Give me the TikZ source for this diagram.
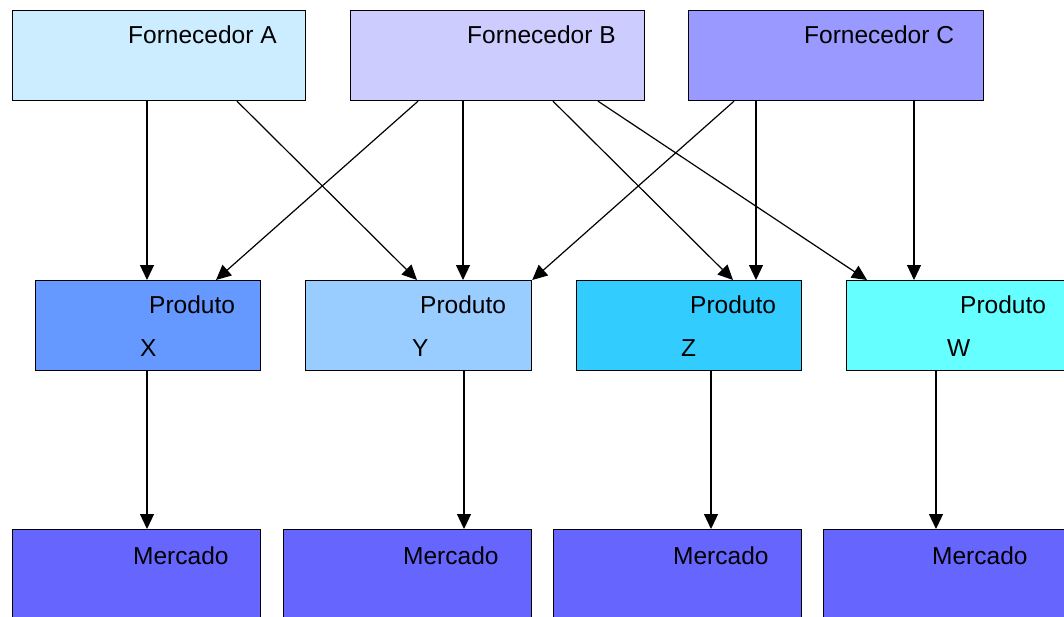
\documentclass[tikz,border=0pt]{standalone}
\usepackage{fontspec}
\setmainfont{Liberation Sans}
\usetikzlibrary{arrows.meta}
\definecolor{cA}{HTML}{CCECFF}
\definecolor{cB}{HTML}{CCCCFF}
\definecolor{cC}{HTML}{9999FF}
\definecolor{cX}{HTML}{6699FF}
\definecolor{cY}{HTML}{99CCFF}
\definecolor{cZ}{HTML}{33CCFF}
\definecolor{cW}{HTML}{66FFFF}
\definecolor{cM}{HTML}{6666FF}
\tikzset{
  box/.style={draw=black, line width=1.2pt, rectangle, inner sep=0pt, anchor=north west},
  lbl/.style={anchor=base west, inner sep=0pt, font=\fontsize{24.5pt}{28pt}\selectfont},
  arr/.style={line width=1.2pt, -{Triangle[length=15pt,width=14pt]}}
}
\begin{document}
\begin{tikzpicture}[x=1pt,y=-1pt]
\useasboundingbox (0,0) rectangle (1064,616);
\begin{scope}
\clip (0,0) rectangle (1064,616);
% suppliers
\node[box, fill=cA, minimum width=293pt, minimum height=90pt] (A) at (12,10) {};
\node[box, fill=cB, minimum width=294pt, minimum height=90pt] (B) at (350,10) {};
\node[box, fill=cC, minimum width=295pt, minimum height=90pt] (C) at (688,10) {};
\node[lbl] (tA) at (128,43) {Fornecedor A};
\node[lbl] (tB) at (467,43) {Fornecedor B};
\node[lbl] (tC) at (804,43) {Fornecedor C};
% products
\node[box, fill=cX, minimum width=225pt, minimum height=90pt] (PX) at (35,280) {};
\node[box, fill=cY, minimum width=226pt, minimum height=90pt] (PY) at (305,280) {};
\node[box, fill=cZ, minimum width=225pt, minimum height=90pt] (PZ) at (576,280) {};
\node[box, fill=cW, minimum width=230pt, minimum height=90pt] (PW) at (846,280) {};
\node[lbl] (tPX) at (149,313) {Produto};
\node[lbl] (tX) at (140,356) {X};
\node[lbl] (tPY) at (420,313) {Produto};
\node[lbl] (tY) at (412,356) {Y};
\node[lbl] (tPZ) at (690,313) {Produto};
\node[lbl] (tZ) at (681,356) {Z};
\node[lbl] (tPW) at (960,313) {Produto};
\node[lbl] (tW) at (947,356) {W};
% markets
\node[box, fill=cM, minimum width=248pt, minimum height=100pt] (M1) at (12,529) {};
\node[box, fill=cM, minimum width=248pt, minimum height=100pt] (M2) at (283,529) {};
\node[box, fill=cM, minimum width=248pt, minimum height=100pt] (M3) at (553,529) {};
\node[box, fill=cM, minimum width=252pt, minimum height=100pt] (M4) at (823,529) {};
\node[lbl] (tM1) at (133,564) {Mercado};
\node[lbl] (tM2) at (403,564) {Mercado};
\node[lbl] (tM3) at (673,564) {Mercado};
\node[lbl] (tM4) at (932,564) {Mercado};
% supplier -> product
\draw[arr] ([xshift=135pt]A.south west) -- ([xshift=112pt]PX.north west);
\draw[arr] ([xshift=225pt]A.south west) -- ([xshift=112pt]PY.north west);
\draw[arr] ([xshift=68pt]B.south west) -- ([xshift=181pt]PX.north west);
\draw[arr] ([xshift=113pt]B.south west) -- ([xshift=158pt]PY.north west);
\draw[arr] ([xshift=203pt]B.south west) -- ([xshift=157pt]PZ.north west);
\draw[arr] ([xshift=248pt]B.south west) -- ([xshift=21pt]PW.north west);
\draw[arr] ([xshift=46pt]C.south west) -- (PY.north east);
\draw[arr] ([xshift=68pt]C.south west) -- ([xshift=180pt]PZ.north west);
\draw[arr] ([xshift=226pt]C.south west) -- ([xshift=68pt]PW.north west);
% product -> market
\draw[arr] ([xshift=112pt]PX.south west) -- ([xshift=135pt]M1.north west);
\draw[arr] ([xshift=159pt]PY.south west) -- ([xshift=181pt]M2.north west);
\draw[arr] ([xshift=135pt]PZ.south west) -- ([xshift=158pt]M3.north west);
\draw[arr] ([xshift=90pt]PW.south west) -- ([xshift=113pt]M4.north west);
\end{scope}
\end{tikzpicture}
\end{document}
